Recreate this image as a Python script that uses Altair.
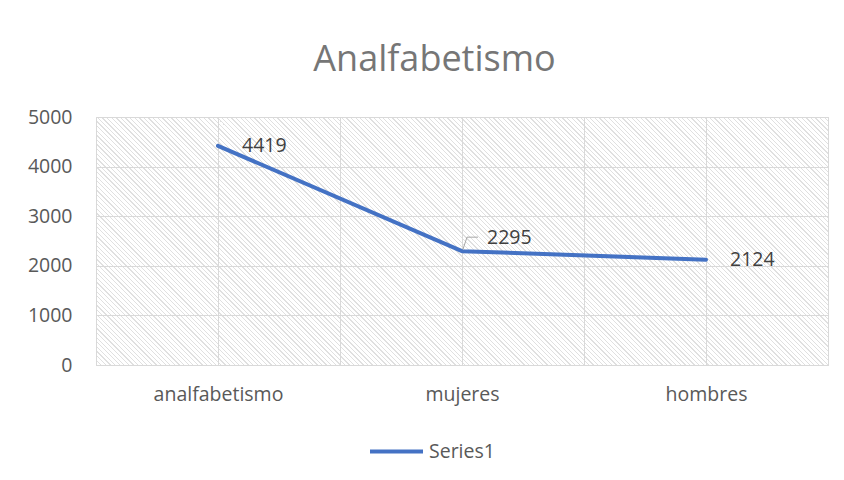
import json
import altair as alt
import pandas as pd

# ---- data ----
categories = ["analfabetismo", "mujeres", "hombres"]
values = [4419, 2295, 2124]
series_name = "Series1"
y_ticks = [0, 1000, 2000, 3000, 4000, 5000]
title_text = "Analfabetismo"

df = pd.DataFrame({
    "cat": categories,
    "idx": list(range(len(categories))),
    "value": values,
    "series": [series_name] * len(categories),
})

# ---- style ----
FONT = "Open Sans"
BLUE = "#4472C4"
GRID = "#d9d9d9"
LABEL = "#595959"
W, H = 732, 248

# diagonal hatch for the plot background (styling only)
L = W + H
period, stripe = 4.6, 1.3
HATCH = "#e0e0e0"
stops = []
k = 0
while k * period < L:
    s = round(k * period / L, 5)
    e = round(min((k * period + stripe) / L, 1.0), 5)
    stops += [
        {"offset": s, "color": "#ffffff"},
        {"offset": s, "color": HATCH},
        {"offset": e, "color": HATCH},
        {"offset": e, "color": "#ffffff"},
    ]
    k += 1
a = W * (W + H) / (W * W + H * H)
hatch = {
    "gradient": "linear",
    "x1": 0, "y1": 1,
    "x2": round(a, 5), "y2": round(1 - a * H / W, 5),
    "stops": stops,
}

label_expr = f"{json.dumps(categories)}[datum.value] || ''"
x_vals = [i / 2 - 0.5 for i in range(2 * len(categories) + 1)]

x = alt.X(
    "idx:Q",
    scale=alt.Scale(domain=[-0.5, len(categories) - 0.5], nice=False, zero=False),
    axis=alt.Axis(
        values=x_vals, labelExpr=label_expr, title=None, grid=True, gridColor=GRID,
        domainColor=GRID, ticks=False, labelPadding=20, labelFontSize=19.5,
        labelColor=LABEL, labelFont=FONT, labelFlush=False, labelOverlap=False,
    ),
)
y = alt.Y(
    "value:Q",
    scale=alt.Scale(domain=[0, 5000], nice=False),
    axis=alt.Axis(
        values=y_ticks, format="d", title=None, grid=True, gridColor=GRID, domain=False,
        ticks=False, labelPadding=24, labelFontSize=19.5, labelColor=LABEL,
        labelFont=FONT,
    ),
)

base = alt.Chart(df)

line = base.mark_line(
    strokeWidth=4, strokeCap="round", strokeJoin="round"
).encode(
    x=x, y=y,
    color=alt.Color(
        "series:N",
        scale=alt.Scale(range=[BLUE]),
        legend=alt.Legend(
            title=None, orient="none", legendX=272, legendY=306, padding=0,
            symbolType="stroke", symbolStrokeWidth=4, symbolSize=2809,
            labelFontSize=19.5, labelColor=LABEL, labelFont=FONT, labelOffset=4,
        ),
    ),
)

labels_main = base.transform_filter(alt.datum.cat != categories[1]).mark_text(
    align="left", baseline="middle", dx=24, dy=0, fontSize=19.5, font=FONT, color="#404040"
).encode(x=x, y=y, text="value:Q")

labels_mid = base.transform_filter(alt.datum.cat == categories[1]).mark_text(
    align="left", baseline="middle", dx=25, dy=-13, fontSize=19.5, font=FONT, color="#404040"
).encode(x=x, y=y, text="value:Q")

leader1 = base.transform_filter(alt.datum.cat == categories[1]).mark_rule(
    color="#a6a6a6", strokeWidth=1, xOffset=1, yOffset=-2, x2Offset=5, y2Offset=-14
).encode(x=x, y=y, x2="idx:Q", y2="value:Q")

leader2 = base.transform_filter(alt.datum.cat == categories[1]).mark_rule(
    color="#a6a6a6", strokeWidth=1, xOffset=5, yOffset=-14, x2Offset=16, y2Offset=-14
).encode(x=x, y=y, x2="idx:Q", y2="value:Q")

chart = alt.layer(leader1, leader2, line, labels_main, labels_mid).properties(
    width=W, height=H,
    autosize=alt.AutoSizeParams(type="none"),
    padding={"left": 88, "top": 109, "right": 8, "bottom": 107},
    title=alt.TitleParams(
        title_text, font=FONT, fontSize=36, fontWeight="normal", color="#767676",
        anchor="middle", dx=-27.5, baseline="alphabetic", offset=0,
    ),
).configure_view(stroke=GRID).configure(
    style={"cell": {"fill": hatch, "stroke": GRID}}
)

chart.save("out.html", embed_options={"renderer": "svg", "actions": False})
